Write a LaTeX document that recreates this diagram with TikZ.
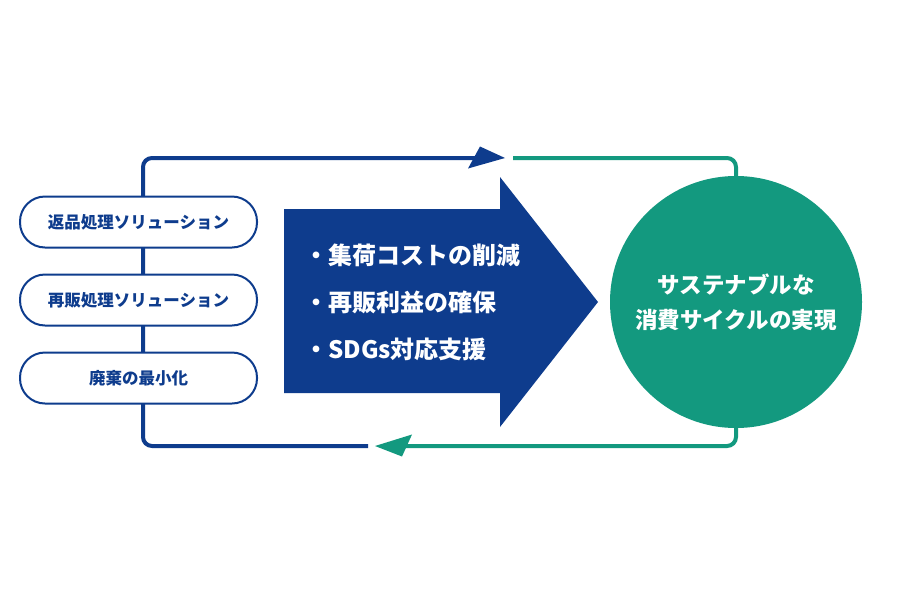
\documentclass[tikz,border=0pt]{standalone}
\usepackage{fontspec}
\setmainfont{Noto Sans CJK JP}
\definecolor{navy}{HTML}{0E3C8D}
\definecolor{teal}{HTML}{13997F}
\begin{document}
\begin{tikzpicture}[x=1pt,y=-1pt,
  pill/.style={draw=navy, line width=2pt, fill=white, rounded corners=25pt,
    minimum width=237pt, minimum height=51pt, inner sep=0pt, text=navy,
    font=\fontsize{16.5}{16.5}\selectfont\bfseries},
  navyline/.style={draw=navy, line width=4pt, rounded corners=9pt},
  tealline/.style={draw=teal, line width=4pt, rounded corners=9pt}]
\useasboundingbox (0,0) rectangle (899,600);
\fill[white] (0,0) rectangle (899,600);
% blue loop
\coordinate (bstart) at (484,158);
\coordinate (bend) at (368,446);
\draw[navyline] (bstart) -- (143,158) -- (143,446) -- (bend);
\coordinate (btip) at (505,158);
\fill[navy] (btip) -- (480,146.5) -- (468,168.5) -- cycle;
% green loop
\coordinate (gstart) at (513,158);
\coordinate (gend) at (400,446);
\draw[tealline] (gstart) -- (736,158) -- (736,446) -- (gend);
\coordinate (gtip) at (375,446);
\fill[teal] (gtip) -- (412,434.5) -- (402,456.5) -- cycle;
% pills
\node[pill] (p1) at (138.5,222) {返品処理ソリューション};
\node[pill] (p2) at (138.5,300) {再販処理ソリューション};
\node[pill] (p3) at (138.5,378) {廃棄の最小化};
% big arrow
\fill[navy] (284,209) -- (500,209) -- (500,177) -- (598,302) -- (500,427) -- (500,393) -- (284,393) -- cycle;
\node[anchor=west, inner sep=0pt, text=white, align=left,
  font=\fontsize{24}{47}\selectfont\bfseries] (bul) at (304,302)
  {・集荷コストの削減\\・再販利益の確保\\・SDGs対応支援};
% circle
\node[circle, fill=teal, minimum size=252pt, inner sep=0pt, text=white, align=center,
  font=\fontsize{22.5}{35}\selectfont\bfseries] (goal) at (736,302)
  {サステナブルな\\消費サイクルの実現};
\end{tikzpicture}
\end{document}
